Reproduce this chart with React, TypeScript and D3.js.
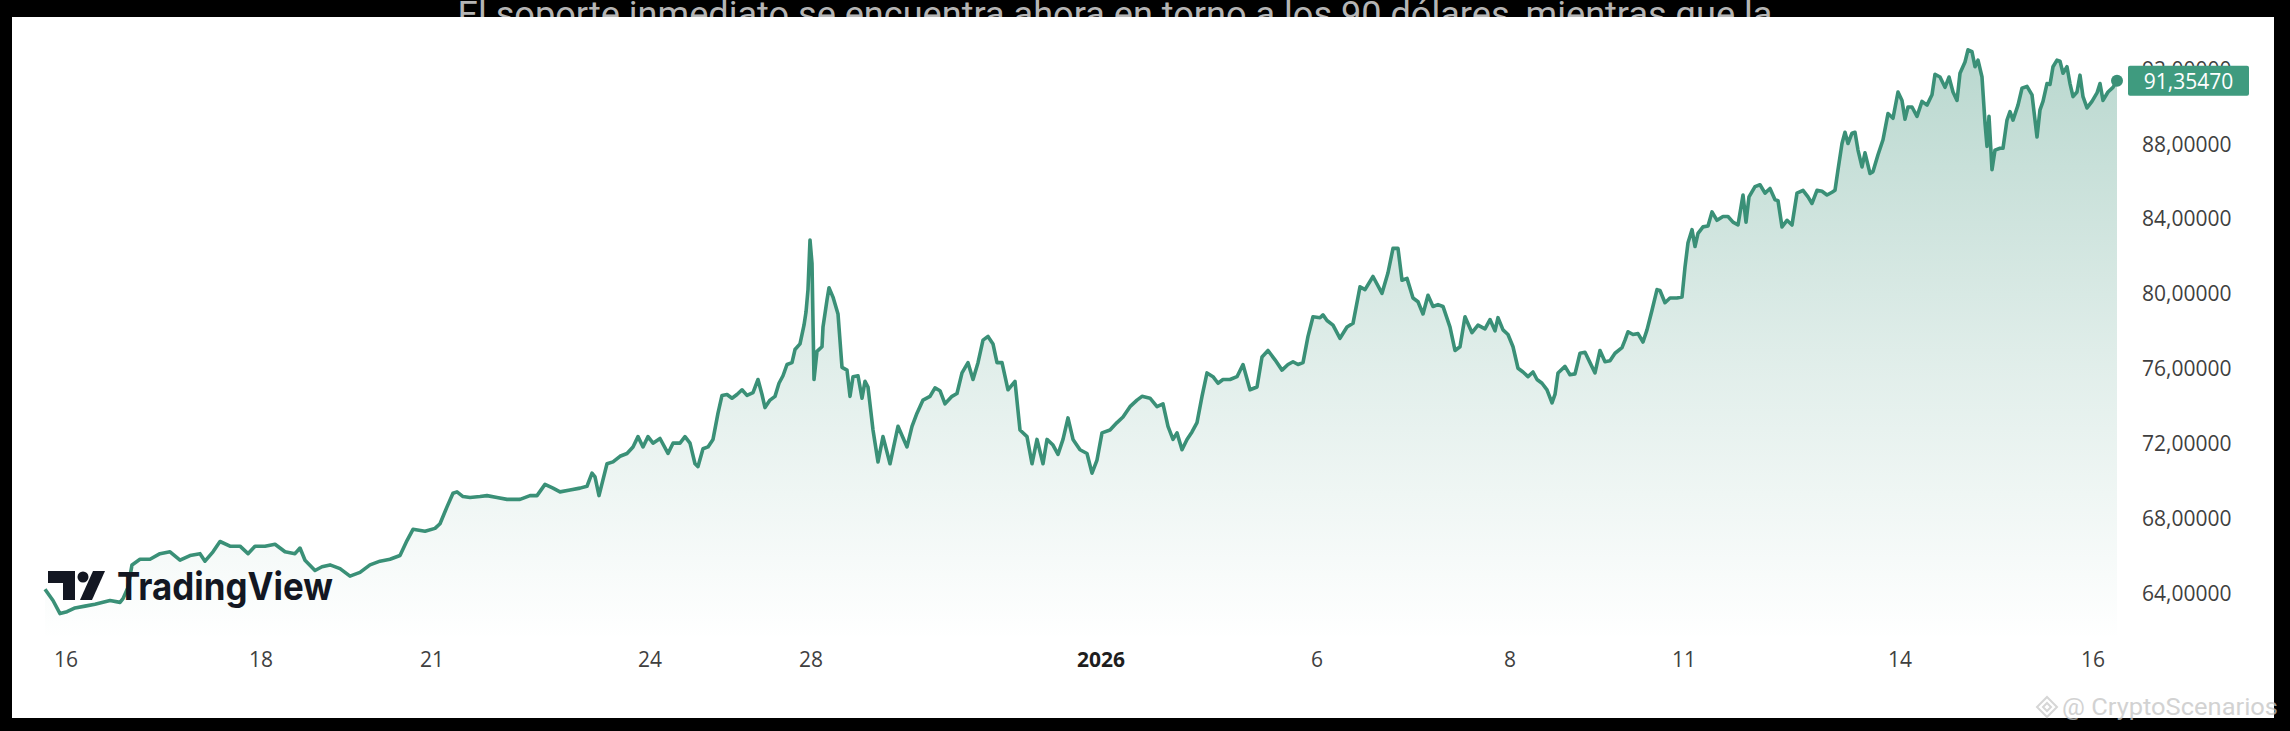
import React from "react";
import * as d3 from "d3";

// Price series: [bar index (15-minute bars from the first bar), price]
const priceSeries: [number, number][] = [
  [0, 64.2], [8, 63.6], [15, 62.9], [22, 63.0], [30, 63.2], [40, 63.3], [50, 63.4], [65, 63.6], [75, 63.5], [78, 63.7],
  [83, 64.3], [87, 65.5], [95, 65.8], [105, 65.8], [115, 66.1], [125, 66.2], [135, 65.75], [145, 66.0], [155, 66.1], [160, 65.7],
  [168, 66.2], [175, 66.75], [185, 66.5], [195, 66.5], [203, 66.1], [210, 66.5], [220, 66.5], [230, 66.6], [240, 66.2], [250, 66.1],
  [255, 66.4], [260, 65.75], [270, 65.2], [277, 65.4], [285, 65.5], [295, 65.3], [305, 64.9], [315, 65.1], [325, 65.5], [335, 65.7],
  [345, 65.8], [355, 66.0], [362, 66.8], [368, 67.4], [380, 67.3], [390, 67.45], [395, 67.7], [402, 68.6], [408, 69.33], [412, 69.4],
  [418, 69.15], [425, 69.1], [435, 69.15], [442, 69.2], [452, 69.1], [462, 69.0], [475, 69.0], [485, 69.2], [492, 69.2], [500, 69.8],
  [508, 69.6], [515, 69.4], [525, 69.5], [535, 69.6], [542, 69.7], [547, 70.4], [550, 70.2], [554, 69.2], [562, 70.9], [568, 71.0],
  [575, 71.3], [582, 71.45], [588, 71.8], [593, 72.35], [598, 71.8], [603, 72.35], [608, 72.0], [615, 72.25], [623, 71.45], [628, 72.0],
  [635, 72.0], [640, 72.35], [645, 72.0], [650, 70.9], [653, 70.75], [658, 71.7], [663, 71.8], [668, 72.2], [673, 73.6], [677, 74.55],
  [682, 74.6], [687, 74.4], [692, 74.6], [697, 74.85], [702, 74.55], [708, 74.7], [713, 75.4], [717, 74.6], [720, 73.9], [725, 74.3],
  [730, 74.5], [734, 75.2], [738, 75.6], [742, 76.2], [747, 76.3], [750, 77.0], [755, 77.3], [759, 78.3], [761, 79.0], [763, 80.2],
  [765, 82.85], [767, 81.6], [769, 75.4], [772, 76.9], [777, 77.15], [778, 78.2], [782, 79.65], [784, 80.3], [788, 79.8], [793, 78.9],
  [797, 76.05], [802, 75.9], [805, 74.5], [808, 75.55], [813, 75.6], [817, 74.4], [820, 75.3], [823, 75.0], [828, 72.7], [833, 71.0],
  [838, 72.35], [845, 70.9], [853, 72.9], [862, 71.8], [867, 72.9], [872, 73.6], [878, 74.3], [885, 74.5], [890, 74.95], [895, 74.8],
  [900, 74.1], [907, 74.5], [912, 74.65], [917, 75.75], [923, 76.3], [928, 75.4], [933, 76.3], [938, 77.5], [943, 77.7], [948, 77.3],
  [952, 76.3], [957, 76.3], [963, 74.85], [970, 75.3], [975, 72.7], [982, 72.35], [987, 70.9], [992, 72.2], [998, 70.9], [1002, 72.2],
  [1008, 71.9], [1013, 71.4], [1018, 72.2], [1023, 73.35], [1028, 72.2], [1035, 71.65], [1042, 71.45], [1047, 70.4], [1052, 71.1], [1057, 72.55],
  [1065, 72.7], [1072, 73.1], [1078, 73.4], [1085, 73.95], [1092, 74.3], [1097, 74.5], [1105, 74.4], [1112, 73.95], [1118, 74.1], [1123, 72.9],
  [1128, 72.2], [1132, 72.55], [1137, 71.65], [1142, 72.2], [1147, 72.6], [1152, 73.1], [1157, 74.5], [1162, 75.75], [1168, 75.55], [1173, 75.2],
  [1178, 75.4], [1185, 75.4], [1192, 75.55], [1198, 76.2], [1205, 74.85], [1212, 75.0], [1217, 76.6], [1223, 76.95], [1230, 76.45], [1237, 75.9],
  [1243, 76.2], [1248, 76.35], [1253, 76.2], [1258, 76.3], [1263, 77.7], [1268, 78.75], [1275, 78.7], [1278, 78.85], [1282, 78.55], [1288, 78.3],
  [1295, 77.6], [1302, 78.2], [1308, 78.4], [1315, 80.35], [1320, 80.2], [1328, 80.9], [1337, 80.0], [1343, 81.1], [1348, 82.4], [1353, 82.4],
  [1357, 80.7], [1362, 80.8], [1368, 79.75], [1373, 79.55], [1378, 78.9], [1383, 79.9], [1388, 79.3], [1393, 79.4], [1398, 79.3], [1405, 78.2],
  [1410, 76.95], [1415, 77.15], [1420, 78.75], [1427, 77.9], [1433, 78.3], [1440, 78.1], [1445, 78.6], [1450, 78.0], [1453, 78.7], [1458, 78.05],
  [1463, 77.8], [1468, 77.15], [1473, 76.0], [1478, 75.8], [1483, 75.55], [1488, 75.8], [1492, 75.4], [1497, 75.2], [1502, 74.85], [1507, 74.15],
  [1510, 74.6], [1513, 75.75], [1520, 76.1], [1525, 75.65], [1530, 75.7], [1535, 76.8], [1540, 76.85], [1545, 76.3], [1550, 75.75], [1555, 76.95],
  [1560, 76.35], [1565, 76.4], [1570, 76.8], [1577, 77.1], [1580, 77.5], [1583, 77.95], [1588, 77.8], [1593, 77.85], [1598, 77.4], [1602, 78.05],
  [1607, 79.1], [1612, 80.2], [1615, 80.15], [1620, 79.5], [1625, 79.75], [1632, 79.75], [1637, 79.8], [1640, 81.4], [1643, 82.7], [1647, 83.4],
  [1650, 82.5], [1653, 83.2], [1658, 83.55], [1663, 83.6], [1667, 84.35], [1672, 83.9], [1678, 84.1], [1683, 84.1], [1688, 83.8], [1693, 83.65],
  [1698, 85.25], [1701, 83.8], [1704, 85.15], [1710, 85.7], [1715, 85.8], [1720, 85.35], [1725, 85.6], [1730, 85.0], [1733, 84.95], [1737, 83.55],
  [1742, 83.9], [1747, 83.65], [1752, 85.35], [1758, 85.5], [1763, 85.15], [1767, 84.8], [1772, 85.5], [1777, 85.45], [1782, 85.25], [1787, 85.4],
  [1790, 85.5], [1793, 86.6], [1797, 88.0], [1800, 88.6], [1803, 88.0], [1807, 88.55], [1810, 88.6], [1813, 87.65], [1817, 86.75], [1820, 87.5],
  [1825, 86.4], [1828, 86.5], [1833, 87.4], [1838, 88.2], [1843, 89.6], [1848, 89.35], [1853, 90.75], [1857, 90.3], [1860, 89.3], [1863, 89.95],
  [1867, 89.95], [1872, 89.45], [1877, 90.25], [1882, 90.05], [1887, 90.6], [1890, 91.7], [1895, 91.55], [1900, 91.0], [1904, 91.55], [1908, 90.75],
  [1912, 90.3], [1915, 91.75], [1920, 92.35], [1923, 93.0], [1927, 92.9], [1930, 92.1], [1933, 92.45], [1937, 91.55], [1940, 89.1], [1942, 87.85],
  [1944, 89.45], [1947, 86.6], [1950, 87.65], [1955, 87.75], [1958, 87.75], [1962, 89.25], [1965, 89.7], [1968, 89.25], [1973, 90.05], [1977, 90.95],
  [1982, 91.05], [1987, 90.6], [1990, 89.25], [1992, 88.35], [1995, 89.8], [1998, 90.25], [2002, 91.2], [2005, 91.15], [2008, 92.1], [2012, 92.45],
  [2015, 92.4], [2018, 91.75], [2022, 92.1], [2025, 91.2], [2028, 90.5], [2032, 90.75], [2035, 91.65], [2038, 90.5], [2042, 89.9], [2047, 90.25],
  [2052, 90.7], [2055, 91.2], [2058, 90.3], [2063, 90.75], [2068, 91.0], [2072, 91.3547],
];

const lastPrice = 91.3547;
const lastPriceLabel = "91,35470";

// Price-axis ticks
const priceTicks = [64, 68, 72, 76, 80, 84, 88, 92];
const priceTickLabels = ["64,00000", "68,00000", "72,00000", "76,00000", "80,00000", "84,00000", "88,00000", "92,00000"];

// Time-axis ticks: label and bar index
const timeTickLabels = ["16", "18", "21", "24", "28", "2026", "6", "8", "11", "14", "16"];
const timeTickBars = [21, 216, 387, 605, 766, 1056, 1272, 1465, 1639, 1855, 2048];
const timeTickBold = [false, false, false, false, false, true, false, false, false, false, false];

const captionTop = "El soporte inmediato se encuentra ahora en torno a los 90 dólares, mientras que la";
const watermark = "@ CryptoScenarios";

const W = 2290;
const H = 731;
const GREEN = "#3a9077";

export default function App() {
  const x = d3.scaleLinear().domain([0, 2072]).range([45, 2117]);
  const y = d3.scaleLinear().domain([64, 92]).range([593, 68.6]);
  const areaBottom = 640;

  const line = d3
    .line<[number, number]>()
    .x((d) => x(d[0]))
    .y((d) => y(d[1]))
    .curve(d3.curveLinear);
  const area = d3
    .area<[number, number]>()
    .x((d) => x(d[0]))
    .y0(areaBottom)
    .y1((d) => y(d[1]))
    .curve(d3.curveLinear);

  const last = priceSeries[priceSeries.length - 1];
  const lastY = y(lastPrice);
  const labelFont = "'Open Sans', 'DejaVu Sans', sans-serif";

  return (
    <svg
      width={W}
      height={H}
      viewBox={`0 0 ${W} ${H}`}
      style={{ position: "absolute", left: 0, top: 0, display: "block" }}
    >
      <defs>
        <linearGradient id="areaGrad" gradientUnits="userSpaceOnUse" x1="0" y1="40" x2="0" y2={areaBottom}>
          <stop offset="0%" stopColor="#3a9077" stopOpacity={0.36} />
          <stop offset="55%" stopColor="#3a9077" stopOpacity={0.15} />
          <stop offset="100%" stopColor="#3a9077" stopOpacity={0.0} />
        </linearGradient>
      </defs>
      <rect x={0} y={0} width={W} height={H} fill="#000" />
      <text
        x={1115}
        y={26}
        textAnchor="middle"
        fontFamily="Roboto, 'Liberation Sans', sans-serif"
        fontSize={35}
        fill="#b5b5b5"
        textLength={1315}
        lengthAdjust="spacingAndGlyphs"
      >
        {captionTop}
      </text>
      <rect x={12} y={17} width={2262} height={701} fill="#fff" />

      {/* area + line */}
      <path d={area(priceSeries) || ""} fill="url(#areaGrad)" />
      <path d={line(priceSeries) || ""} fill="none" stroke={GREEN} strokeWidth={3.6} strokeLinejoin="round" />
      <circle cx={x(last[0])} cy={y(last[1])} r={6} fill={GREEN} />

      {/* price axis labels */}
      {priceTicks.map((v, i) => (
        <text
          key={v}
          x={2142}
          y={y(v)}
          dominantBaseline="central"
          fontFamily={labelFont}
          fontSize={21}
          fill="#3f3f3f"
        >
          {priceTickLabels[i]}
        </text>
      ))}
      <rect x={2128} y={lastY - 15} width={121} height={30} rx={2} fill="#3f9b7f" />
      <text
        x={2188.5}
        y={lastY}
        textAnchor="middle"
        dominantBaseline="central"
        fontFamily={labelFont}
        fontSize={21}
        fill="#fff"
      >
        {lastPriceLabel}
      </text>

      {/* time axis labels */}
      {timeTickLabels.map((t, i) => (
        <text
          key={i}
          x={x(timeTickBars[i])}
          y={659}
          textAnchor="middle"
          dominantBaseline="central"
          fontFamily={labelFont}
          fontSize={21}
          fontWeight={timeTickBold[i] ? 700 : 400}
          fill={timeTickBold[i] ? "#1e1e1e" : "#3f3f3f"}
        >
          {t}
        </text>
      ))}

      {/* TradingView logo */}
      <g fill="#131722">
        <path d="M48 571 H75 V600 H63 V583 H48 Z" />
        <circle cx={83} cy={577} r={5.5} />
        <path d="M93 571 H105 L92 600 H80 Z" />
        <text
          x={117}
          y={600}
          fontFamily="Inter, 'Open Sans', sans-serif"
          fontWeight={700}
          fontSize={38}
          textLength={216}
          lengthAdjust="spacingAndGlyphs"
        >
          TradingView
        </text>
      </g>

      {/* watermark */}
      <g opacity={0.75}>
        <g transform="translate(2047,707)" fill="none" stroke="#c9c9c9" strokeWidth={2}>
          <path d="M0 -10 L10 0 L0 10 L-10 0 Z" />
          <path d="M0 -4 L4 0 L0 4 L-4 0 Z" />
        </g>
        <text
          x={2062}
          y={715}
          fontFamily="Roboto, 'Liberation Sans', sans-serif"
          fontSize={24}
          fill="#c4c4c4"
          textLength={216}
          lengthAdjust="spacingAndGlyphs"
        >
          {watermark}
        </text>
      </g>
    </svg>
  );
}
